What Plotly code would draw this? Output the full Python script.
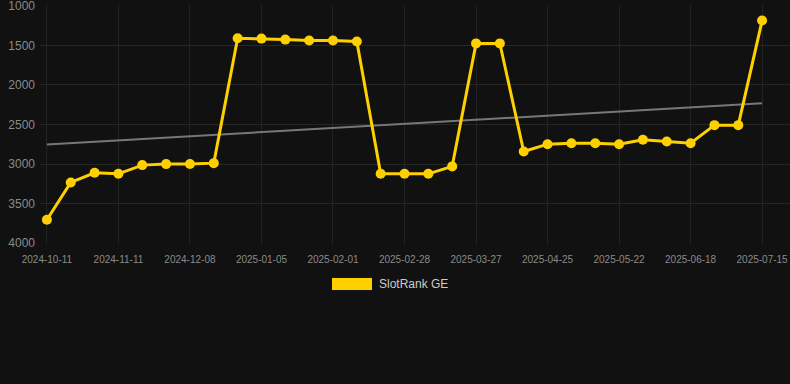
import numpy as np
import plotly.graph_objects as go

dates = [
    "2024-10-11", "2024-10-21", "2024-10-31", "2024-11-11", "2024-11-20", "2024-11-29",
    "2024-12-08", "2024-12-17", "2024-12-26", "2025-01-05", "2025-01-14", "2025-01-23",
    "2025-02-01", "2025-02-10", "2025-02-19", "2025-02-28", "2025-03-09", "2025-03-18",
    "2025-03-27", "2025-04-05", "2025-04-15", "2025-04-25", "2025-05-04", "2025-05-13",
    "2025-05-22", "2025-05-31", "2025-06-09", "2025-06-18", "2025-06-27", "2025-07-06",
    "2025-07-15",
]
ranks = [
    3705, 3233, 3111, 3124, 3014, 3001, 3000, 2989, 1409, 1413, 1426, 1438, 1438, 1450,
    3124, 3124, 3124, 3030, 1474, 1474, 2842, 2749, 2737, 2737, 2749, 2694, 2715, 2737,
    2508, 2508, 1185,
]
tick_labels = dates[::3]
y_ticks = [1000, 1500, 2000, 2500, 3000, 3500, 4000]
series_name = "SlotRank GE"

idx = np.arange(len(ranks))
slope, intercept = np.polyfit(idx, ranks, 1)
trend = slope * idx + intercept

BG = "#111111"
GOLD = "#FFD000"

TOP, BOT = 5, 244  # plot area pixel bounds (vertical)
LEFT, RIGHT = 40, 790
PW, PH = RIGHT - LEFT, BOT - TOP

fig = go.Figure()
fig.add_trace(go.Scatter(
    x=dates, y=trend, mode="lines",
    line=dict(color="#777777", width=2),
    showlegend=False, hoverinfo="skip",
))
fig.add_trace(go.Scatter(
    x=dates, y=ranks, mode="lines+markers", name=series_name,
    line=dict(color=GOLD, width=3),
    marker=dict(color=GOLD, size=10),
    showlegend=False,
))

fig.update_layout(
    width=790, height=384,
    paper_bgcolor=BG, plot_bgcolor=BG,
    margin=dict(l=LEFT, r=790 - RIGHT, t=TOP, b=384 - BOT),
    font=dict(family="Arial, Liberation Sans, sans-serif", color="#8a8a8a"),
    hovermode=False,
    xaxis=dict(
        type="category",
        range=[-0.29, 31.17],
        tickmode="array", tickvals=tick_labels, ticktext=tick_labels,
        tickfont=dict(size=10, color="#8a8a8a"),
        showgrid=True, gridcolor="#222222", gridwidth=1,
        zeroline=False, showline=False, ticks="",
        ticklabelstandoff=8,
        ticklabeloverflow="allow",
    ),
    yaxis=dict(
        range=[4012, 988],
        tickvals=y_ticks,
        tickfont=dict(size=12, color="#8a8a8a"),
        showgrid=True, gridcolor="#262626", gridwidth=1,
        zeroline=False, showline=False, ticks="",
        ticklabelstandoff=4,
        ticklabeloverflow="allow",
    ),
    shapes=[dict(
        type="rect", xref="paper", yref="paper",
        x0=(332 - LEFT) / PW, x1=(372 - LEFT) / PW,
        y0=(BOT - 290) / PH, y1=(BOT - 278) / PH,
        fillcolor=GOLD, line=dict(width=0),
    )],
    annotations=[dict(
        text=series_name, xref="paper", yref="paper",
        x=(377 - LEFT) / PW, y=(BOT - 284) / PH,
        xanchor="left", yanchor="middle", showarrow=False,
        font=dict(size=12, color="#cccccc"),
    )],
)

fig.write_html(
    "out.html",
    config={"displayModeBar": False},
    post_script="document.body.style.margin='0';document.body.style.background='#111111';",
)
